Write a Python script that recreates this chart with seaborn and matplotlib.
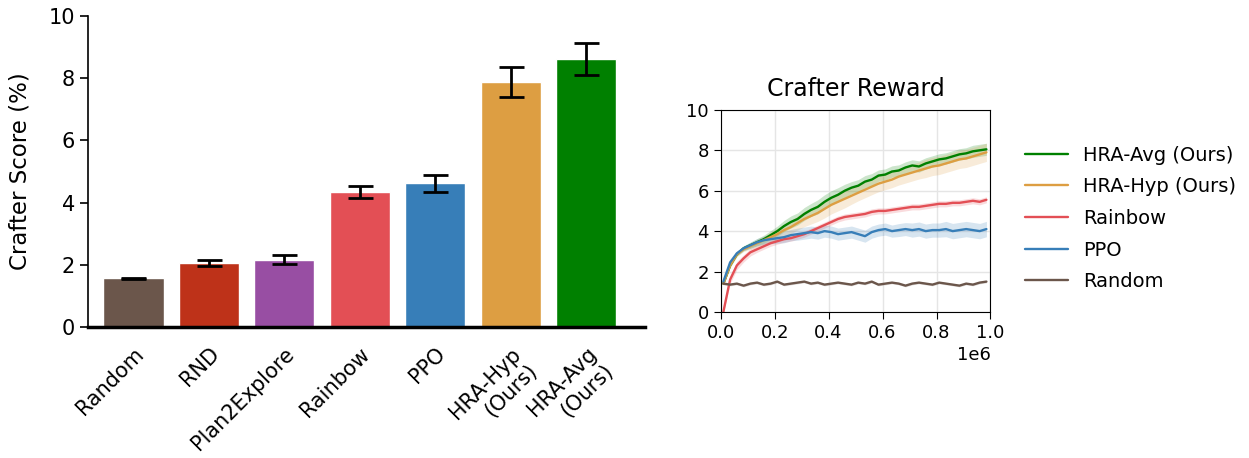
import numpy as np
import pandas as pd
from matplotlib import pyplot as plt
import seaborn as sns

# bar chart data (left)
methods = ['Random', 'RND', 'Plan2Explore', 'Rainbow', 'PPO',
           'HRA-Hyp\n(Ours)', 'HRA-Avg\n(Ours)']
scores = [1.57, 2.05, 2.17, 4.35, 4.62, 7.87, 8.62]
score_err = [0.02, 0.09, 0.14, 0.20, 0.28, 0.48, 0.52]
bar_colors = ['#6b564b', '#be3219', '#984ea3', '#e34f55', '#377eb8',
              '#dd9e42', '#008000']

# learning curves (right)
steps = list(range(10_000, 1_000_001, 25_000))
hra_avg = [1.40, 2.30, 2.85, 3.15, 3.30, 3.45, 3.60, 3.80, 4.00, 4.25,
           4.45, 4.60, 4.85, 5.05, 5.20, 5.45, 5.65, 5.80, 6.00, 6.15,
           6.25, 6.45, 6.55, 6.75, 6.80, 6.95, 7.00, 7.15, 7.25, 7.20,
           7.35, 7.45, 7.55, 7.60, 7.70, 7.80, 7.85, 7.95, 8.00, 8.05]
hra_hyp = [1.40, 2.30, 2.85, 3.10, 3.25, 3.40, 3.55, 3.70, 3.85, 4.05,
           4.20, 4.40, 4.60, 4.75, 4.90, 5.10, 5.30, 5.45, 5.60, 5.75,
           5.90, 6.05, 6.20, 6.35, 6.45, 6.55, 6.70, 6.80, 6.90, 7.00,
           7.10, 7.20, 7.25, 7.35, 7.45, 7.55, 7.60, 7.70, 7.80, 7.90]
rainbow = [0.00, 1.60, 2.30, 2.65, 2.95, 3.10, 3.25, 3.40, 3.50, 3.60,
           3.65, 3.75, 3.85, 4.00, 4.15, 4.30, 4.45, 4.60, 4.70, 4.75,
           4.80, 4.85, 4.95, 5.00, 5.00, 5.05, 5.10, 5.15, 5.20, 5.20,
           5.25, 5.30, 5.35, 5.35, 5.40, 5.40, 5.45, 5.50, 5.45, 5.55]
ppo = [1.50, 2.45, 2.90, 3.15, 3.30, 3.45, 3.55, 3.60, 3.65, 3.70,
       3.80, 3.85, 3.90, 3.95, 3.90, 4.00, 3.95, 3.85, 3.90, 3.95,
       3.85, 3.75, 3.95, 4.05, 4.10, 4.00, 4.05, 4.10, 4.05, 4.10,
       4.00, 4.05, 4.05, 4.10, 4.00, 4.05, 4.10, 4.05, 4.00, 4.10]
random_agent = [1.40, 1.35, 1.40, 1.30, 1.40, 1.45, 1.35, 1.40, 1.50, 1.35,
                1.40, 1.45, 1.50, 1.40, 1.45, 1.35, 1.40, 1.45, 1.40, 1.35,
                1.45, 1.40, 1.50, 1.35, 1.40, 1.45, 1.40, 1.30, 1.40, 1.45,
                1.40, 1.35, 1.45, 1.40, 1.35, 1.30, 1.40, 1.35, 1.45, 1.50]

# half-width of the shaded band
hra_avg_sd = [0.08, 0.10, 0.10, 0.12, 0.15, 0.18, 0.20, 0.22, 0.25, 0.28,
              0.30, 0.30, 0.32, 0.32, 0.35, 0.35, 0.35, 0.35, 0.32, 0.30,
              0.30, 0.30, 0.30, 0.28, 0.28, 0.28, 0.28, 0.28, 0.28, 0.28,
              0.28, 0.28, 0.28, 0.28, 0.28, 0.28, 0.28, 0.30, 0.30, 0.30]
hra_hyp_sd = [0.08, 0.10, 0.10, 0.12, 0.15, 0.18, 0.20, 0.25, 0.28, 0.30,
              0.32, 0.35, 0.38, 0.40, 0.42, 0.45, 0.45, 0.45, 0.45, 0.42,
              0.40, 0.40, 0.40, 0.40, 0.40, 0.40, 0.42, 0.42, 0.42, 0.42,
              0.45, 0.45, 0.45, 0.45, 0.45, 0.45, 0.45, 0.45, 0.45, 0.45]
rainbow_sd = [0.05, 0.20, 0.20, 0.18, 0.18, 0.15, 0.15, 0.15, 0.15, 0.15,
              0.15, 0.15, 0.15, 0.15, 0.15, 0.15, 0.15, 0.15, 0.15, 0.15,
              0.15, 0.15, 0.15, 0.15, 0.15, 0.15, 0.15, 0.15, 0.15, 0.15,
              0.15, 0.15, 0.15, 0.15, 0.15, 0.15, 0.15, 0.15, 0.15, 0.15]
ppo_sd = [0.05, 0.08, 0.10, 0.12, 0.15, 0.18, 0.20, 0.22, 0.25, 0.28,
          0.28, 0.30, 0.30, 0.30, 0.30, 0.30, 0.30, 0.30, 0.30, 0.30,
          0.30, 0.30, 0.30, 0.30, 0.30, 0.30, 0.32, 0.32, 0.35, 0.35,
          0.35, 0.35, 0.35, 0.38, 0.38, 0.38, 0.38, 0.38, 0.38, 0.38]
random_sd = [0.06] * 40

curve_names = ['HRA-Avg (Ours)', 'HRA-Hyp (Ours)', 'Rainbow', 'PPO', 'Random']
curve_colors = ['#008000', '#dd9e42', '#e34f55', '#377eb8', '#6b564b']

sns.set_style('ticks')
plt.rcParams.update({'text.color': 'black', 'axes.labelcolor': 'black',
                     'xtick.color': 'black', 'ytick.color': 'black',
                     'axes.edgecolor': 'black'})
fig = plt.figure(figsize=(12.49, 4.58), dpi=100)

# ---- left: final scores
ax1 = fig.add_axes([0.0705, 0.286, 0.446, 0.679])
bar_df = pd.DataFrame({'method': methods, 'score': scores})
sns.barplot(data=bar_df, x='method', y='score', hue='method',
            palette=bar_colors, saturation=1, width=0.8, ax=ax1, legend=False)
ax1.errorbar(range(len(methods)), scores, yerr=score_err, fmt='none',
             ecolor='black', elinewidth=2, capsize=9, capthick=2)
ax1.set_ylim(0, 10)
ax1.set_xlim(-0.6, 6.78)
ax1.set_xlabel('')
ax1.set_ylabel('Crafter Score (%)', fontsize=16.5, labelpad=12)
ax1.tick_params(axis='y', labelsize=15, length=6, width=1.2)
ax1.tick_params(axis='x', labelsize=15, length=0, pad=12)
plt.setp(ax1.get_xticklabels(), rotation=45, ha='right', rotation_mode='anchor')
sns.despine(ax=ax1)
ax1.spines['bottom'].set_linewidth(2.5)
ax1.spines['left'].set_linewidth(1.2)

# ---- right: reward curves
ax2 = fig.add_axes([0.577, 0.319, 0.216, 0.441])
curves = [hra_avg, hra_hyp, rainbow, ppo, random_agent]
spreads = [hra_avg_sd, hra_hyp_sd, rainbow_sd, ppo_sd, random_sd]
for name, vals, sd, col in zip(curve_names, curves, spreads, curve_colors):
    vals = np.array(vals)
    sd = np.array(sd)
    sns.lineplot(x=steps, y=vals, color=col, linewidth=1.7, label=name, ax=ax2)
    ax2.fill_between(steps, vals - sd, vals + sd, color=col, alpha=0.2, linewidth=0)
ax2.set_xlim(0, 1_000_000)
ax2.set_ylim(0, 10)
ax2.set_xticks([0, 200_000, 400_000, 600_000, 800_000, 1_000_000])
ax2.set_yticks([0, 2, 4, 6, 8, 10])
ax2.grid(True, color='#e5e5e5', linewidth=1)
ax2.set_title('Crafter Reward', fontsize=17, pad=10)
ax2.tick_params(labelsize=13, length=5)
ax2.xaxis.get_offset_text().set_fontsize(13)
ax2.legend(loc='upper left', bbox_to_anchor=(1.063, 0.91), frameon=False,
           fontsize=14, handlelength=2.2, labelspacing=0.65)

fig.savefig('out.png', dpi=100)
